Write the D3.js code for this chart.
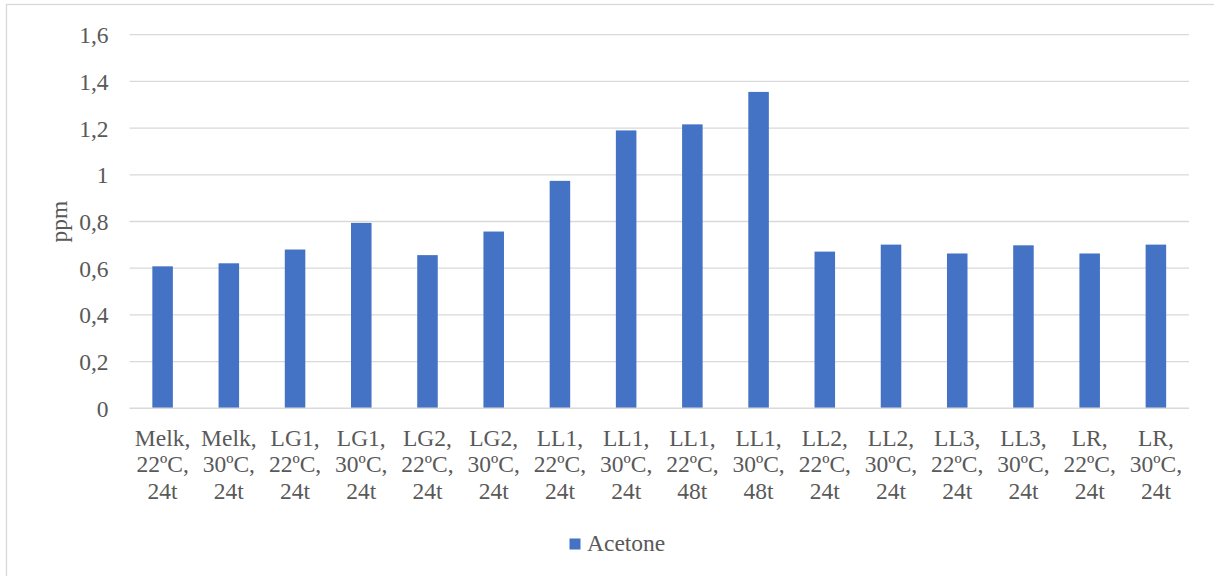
<!DOCTYPE html>
<html>
<head>
<meta charset="utf-8">
<script src="https://cdn.jsdelivr.net/npm/d3@7"></script>
<style>
  html, body { margin: 0; padding: 0; background: #fff; }
  svg { display: block; }
</style>
</head>
<body>
<svg id="chart" width="1214" height="576"></svg>
<script>
// Sample labels (three lines each) and measured acetone concentrations (ppm)
const categories = [
  ["Melk,", "22ºC,", "24t"], ["Melk,", "30ºC,", "24t"],
  ["LG1,", "22ºC,", "24t"], ["LG1,", "30ºC,", "24t"],
  ["LG2,", "22ºC,", "24t"], ["LG2,", "30ºC,", "24t"],
  ["LL1,", "22ºC,", "24t"], ["LL1,", "30ºC,", "24t"],
  ["LL1,", "22ºC,", "48t"], ["LL1,", "30ºC,", "48t"],
  ["LL2,", "22ºC,", "24t"], ["LL2,", "30ºC,", "24t"],
  ["LL3,", "22ºC,", "24t"], ["LL3,", "30ºC,", "24t"],
  ["LR,", "22ºC,", "24t"], ["LR,", "30ºC,", "24t"]
];
const acetone = [0.608, 0.621, 0.680, 0.794, 0.656, 0.757, 0.974, 1.190,
                 1.216, 1.355, 0.671, 0.701, 0.663, 0.698, 0.663, 0.701];
const yTicks = [0, 0.2, 0.4, 0.6, 0.8, 1.0, 1.2, 1.4, 1.6];
const seriesName = "Acetone";
const yTitle = "ppm";

const FONT = "'Liberation Serif', 'Times New Roman', Times, serif";
const fontSize = 23.5;
const textColor = "#595959";

const svg = d3.select("#chart");
const W = 1214, H = 576;
const m = { left: 129.5, right: W - 1189, top: 34.7, bottom: H - 408.3 };

function styleText(sel) {
  return sel.style("font-family", FONT)
    .style("font-size", fontSize + "px")
    .style("fill", textColor);
}

// Outer chart frame
svg.append("rect")
  .attr("x", 6.5).attr("y", 4.5)
  .attr("width", W + 10).attr("height", H + 10)
  .attr("fill", "#fff").attr("stroke", "#D9D9D9").attr("stroke-width", 1.3);

const keys = categories.map((c, i) => i);
const x = d3.scaleBand().domain(keys).range([m.left, W - m.right])
  .paddingInner(0.69).paddingOuter(0.345);
const y = d3.scaleLinear().domain([0, 1.6]).range([H - m.bottom, m.top]);
const fmt = v => d3.format(".1~f")(v).replace(".", ",");

// Horizontal gridlines
svg.append("g")
  .selectAll("line").data(yTicks.filter(t => t > 0)).join("line")
  .attr("x1", m.left).attr("x2", W - m.right)
  .attr("y1", d => y(d)).attr("y2", d => y(d))
  .attr("stroke", "#D9D9D9").attr("stroke-width", 1.3);

// Y axis labels
const yAxis = svg.append("g")
  .attr("transform", `translate(${m.left},0)`)
  .call(d3.axisLeft(y).tickValues(yTicks).tickFormat(fmt).tickSize(0).tickPadding(21));
yAxis.attr("font-family", null).attr("font-size", null);
yAxis.select(".domain").remove();
styleText(yAxis.selectAll("text")).attr("fill", null).attr("dy", "0.34em");

// Bars
svg.append("g")
  .selectAll("rect").data(acetone).join("rect")
  .attr("x", (d, i) => x(i))
  .attr("width", x.bandwidth())
  .attr("y", d => y(d))
  .attr("height", d => y(0) - y(d))
  .attr("fill", "#4472C4");

// X axis line
svg.append("line")
  .attr("x1", m.left).attr("x2", W - m.right)
  .attr("y1", y(0)).attr("y2", y(0))
  .attr("stroke", "#D9D9D9").attr("stroke-width", 1.5);

// Category labels (three lines)
const xl = svg.append("g");
categories.forEach((lines, i) => {
  const t = styleText(xl.append("text").attr("text-anchor", "middle"));
  lines.forEach((s, j) => {
    t.append("tspan")
      .attr("x", x(i) + x.bandwidth() / 2)
      .attr("y", 445.5 + j * 26.7)
      .text(s);
  });
});

// Y axis title
styleText(svg.append("text")
  .attr("transform", `translate(67,${(y(0) + y(1.6)) / 2}) rotate(-90)`)
  .attr("text-anchor", "middle"))
  .text(yTitle);

// Legend
const lg = svg.append("g");
lg.append("rect")
  .attr("x", 569.5).attr("y", 538.5).attr("width", 11).attr("height", 11)
  .attr("fill", "#4472C4");
styleText(lg.append("text").attr("x", 587).attr("y", 551))
  .text(seriesName);
</script>
</body>
</html>
